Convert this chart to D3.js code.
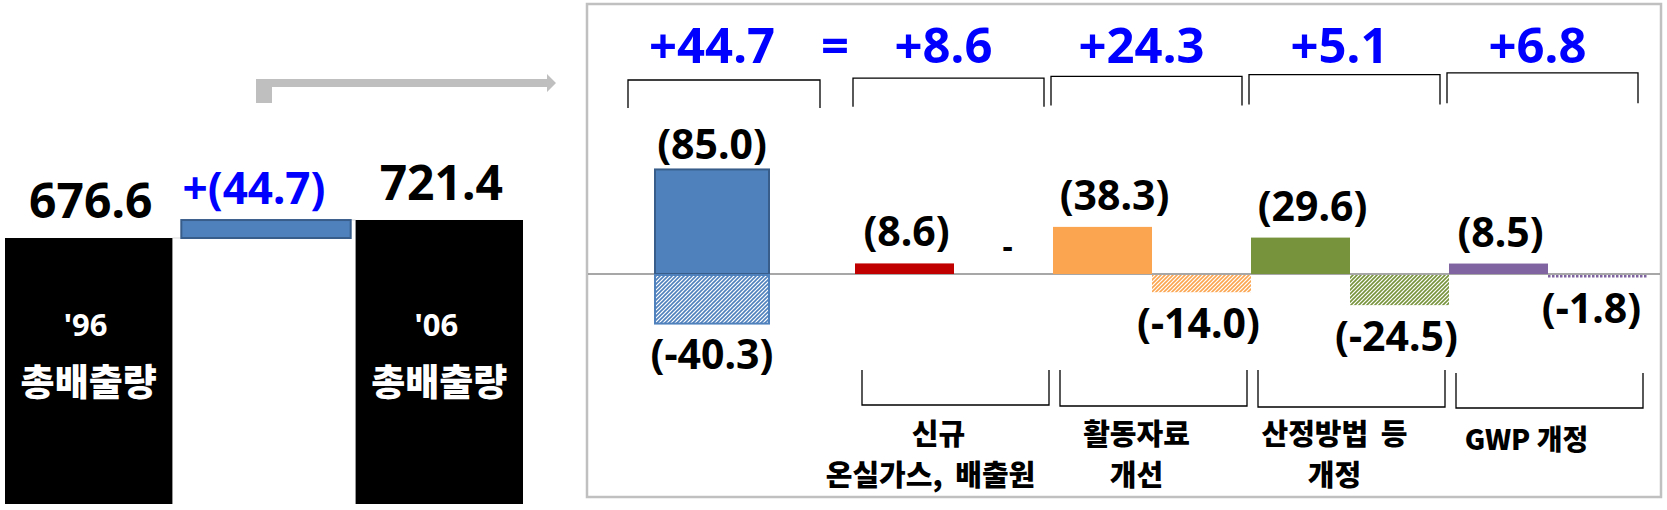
<!DOCTYPE html>
<html><head><meta charset="utf-8">
<script src="https://cdn.jsdelivr.net/npm/d3@7"></script>
<style>
body{margin:0;background:#fff}
svg{display:block}
text{font-family:"Noto Sans","Noto Sans CJK KR",sans-serif;font-weight:700}
text.kr{font-family:"Noto Sans CJK KR","Noto Sans",sans-serif;font-weight:900}
</style>
</head><body>
<svg id="c" width="1667" height="510"></svg>
<script>
// ---- data ----
const totalYears = ["'96", "'06"];
const totalNames = ["총배출량", "총배출량"];
const totalValues = [676.6, 721.4];
const totalChange = 44.7;
const netValues = [44.7, 8.6, 24.3, 5.1, 6.8];
const overallIncrease = 85.0;
const overallDecrease = -40.3;
const categories = ["신규 온실가스, 배출원", "활동자료 개선", "산정방법 등 개정", "GWP 개정"];
const categoryLines = [["신규", "온실가스, 배출원"], ["활동자료", "개선"], ["산정방법 등", "개정"], ["GWP 개정"]];
const increases = [8.6, 38.3, 29.6, 8.5];
const decreases = [null, -14.0, -24.5, -1.8];
const catColors = ["#c00000", "#fba550", "#77933c", "#8064a2"];

const svg = d3.select("#c");
const f1 = v => (+v).toFixed(1);
const paren = v => "(" + f1(v) + ")";

// ---- patterns ----
const defs = svg.append("defs");
function hatch(id, color, bg) {
  const p = defs.append("pattern").attr("id", id).attr("patternUnits", "userSpaceOnUse")
    .attr("width", 4).attr("height", 4);
  p.append("rect").attr("width", 4).attr("height", 4).attr("fill", bg);
  p.append("path").attr("d", "M-1,1 l2,-2 M0,4 l4,-4 M3,5 l2,-2")
    .attr("stroke", color).attr("stroke-width", 1.6);
}
hatch("h0", "#4f81bd", "#ffffff");
hatch("h1", catColors[1], "#ffffff");
hatch("h2", catColors[2], "#ffffff");
hatch("h3", catColors[3], "#ffffff");
{
  const p = defs.append("pattern").attr("id", "dots").attr("patternUnits", "userSpaceOnUse")
    .attr("width", 4).attr("height", 3);
  p.append("rect").attr("width", 4).attr("height", 3).attr("fill", "#fff");
  p.append("rect").attr("width", 2.5).attr("height", 3).attr("fill", catColors[3]);
}

// ---- left section ----
const xL = d3.scaleBand().domain([0, 1, 2]).range([5, 523]).paddingInner(0.045);
const yL = d3.scaleLinear().domain([0, 750]).range([510, 208.5]);
const leftBottom = 504;

svg.append("line").attr("x1", xL(0) + xL.bandwidth()).attr("x2", xL(1))
  .attr("y1", yL(totalValues[0])).attr("y2", yL(totalValues[0]))
  .attr("stroke", "#d9d9d9").attr("stroke-width", 1);
svg.append("line").attr("x1", xL(1) + xL.bandwidth()).attr("x2", xL(2))
  .attr("y1", yL(totalValues[1])).attr("y2", yL(totalValues[1]))
  .attr("stroke", "#d9d9d9").attr("stroke-width", 1);

[0, 1].forEach(i => {
  const xi = i === 0 ? 0 : 2;
  const x = xL(xi), w = xL.bandwidth(), cx = x + w / 2;
  svg.append("rect").attr("x", x).attr("y", yL(totalValues[i]))
    .attr("width", w).attr("height", leftBottom - yL(totalValues[i])).attr("fill", "#000");
  svg.append("text").attr("x", cx + 2).attr("y", yL(totalValues[i]) - 20)
    .attr("text-anchor", "middle").attr("font-size", 48).attr("fill", "#000")
    .text(f1(totalValues[i]));
  svg.append("text").attr("x", cx - 3).attr("y", 336)
    .attr("text-anchor", "middle").attr("font-size", 31).attr("fill", "#fff")
    .text(totalYears[i]);
  svg.append("text").attr("class", "kr").attr("x", cx).attr("y", 396)
    .attr("text-anchor", "middle").attr("font-size", 37).attr("fill", "#fff")
    .text(totalNames[i]);
});
svg.append("rect").attr("x", xL(1) + 1).attr("y", yL(totalValues[0] + totalChange))
  .attr("width", xL.bandwidth() + 2).attr("height", yL(totalValues[0]) - yL(totalValues[0] + totalChange))
  .attr("fill", "#4f81bd").attr("stroke", "#385d8a").attr("stroke-width", 2);
svg.append("text").attr("x", xL(1) + xL.bandwidth() / 2 - 10).attr("y", yL(totalValues[0] + totalChange) - 16)
  .attr("text-anchor", "middle").attr("font-size", 44).attr("fill", "#0000ff")
  .text("+(" + f1(totalChange) + ")");

// grey arrow
svg.append("path")
  .attr("d", "M256,79 H547 V74 L556,83 L547,92 V87 H272 V103 H256 Z")
  .attr("fill", "#bfbfbf");

// ---- right panel ----
svg.append("rect").attr("x", 587).attr("y", 4).attr("width", 1074).attr("height", 493)
  .attr("fill", "none").attr("stroke", "#c0c0c0").attr("stroke-width", 2.5);

const yR = d3.scaleLinear().domain([-50, 100]).range([274 + 61.5, 274 - 123]);
const xO = d3.scaleBand().domain(["total"]).range([655, 769]);
const xS = d3.scaleBand().domain(d3.range(8)).range([855, 1647]);
const bw = xS.bandwidth();

svg.append("line").attr("x1", 588).attr("x2", 1660).attr("y1", yR(0)).attr("y2", yR(0))
  .attr("stroke", "#8a8a8a").attr("stroke-width", 1.5);

svg.append("rect").attr("x", xO("total")).attr("y", yR(overallIncrease))
  .attr("width", xO.bandwidth()).attr("height", yR(0) - yR(overallIncrease))
  .attr("fill", "#4f81bd").attr("stroke", "#385d8a").attr("stroke-width", 2);
svg.append("rect").attr("x", xO("total")).attr("y", yR(0) + 1)
  .attr("width", xO.bandwidth()).attr("height", yR(overallDecrease) - yR(0) - 1)
  .attr("fill", "url(#h0)").attr("stroke", "#4f81bd").attr("stroke-width", 2);
svg.append("text").attr("x", xO("total") + xO.bandwidth() / 2).attr("y", yR(overallIncrease) - 10)
  .attr("text-anchor", "middle").attr("font-size", 41).text(paren(overallIncrease));
svg.append("text").attr("x", xO("total") + xO.bandwidth() / 2).attr("y", yR(overallDecrease) + 45)
  .attr("text-anchor", "middle").attr("font-size", 41).text(paren(overallDecrease));

increases.forEach((v, i) => {
  const x = xS(2 * i);
  svg.append("rect").attr("x", x).attr("y", yR(v)).attr("width", bw)
    .attr("height", yR(0) - yR(v)).attr("fill", catColors[i]);
  svg.append("text").attr("x", x + bw / 2 + (i === 1 || i === 2 ? 12 : 2)).attr("y", yR(v) - 17)
    .attr("text-anchor", "middle").attr("font-size", 41).text(paren(v));
});
decreases.forEach((v, i) => {
  const x = xS(2 * i + 1);
  if (v === null) {
    svg.append("text").attr("x", x + bw / 2 + 4).attr("y", 258)
      .attr("text-anchor", "middle").attr("font-size", 32).text("-");
    return;
  }
  const fill = i === 3 ? "url(#dots)" : "url(#h" + i + ")";
  svg.append("rect").attr("x", x).attr("y", yR(0) + 1).attr("width", bw)
    .attr("height", Math.max(2.5, yR(v) - yR(0))).attr("fill", fill);
  svg.append("text").attr("x", x + bw / 2 + (i === 3 ? -6 : -3)).attr("y", yR(v) + 47)
    .attr("text-anchor", "middle").attr("font-size", 41).text(paren(v));
});

const topGroups = [[xO("total") - 27, xO("total") + xO.bandwidth() + 51]]
  .concat(d3.range(4).map(i => [xS(2 * i) - 2, xS(2 * i) + 2 * bw - 9]));
topGroups.forEach(([x0, x1], i) => {
  const yt = 80 - i * 1.8, yb = 108 - i * 1.2;
  svg.append("path").attr("d", `M${x0},${yb} V${yt} H${x1} V${yb}`)
    .attr("fill", "none").attr("stroke", "#000").attr("stroke-width", 1.3);
  const cx = i === 0 ? xO("total") + xO.bandwidth() / 2 : (x0 + x1) / 2 - 5;
  svg.append("text").attr("x", cx).attr("y", 63).attr("text-anchor", "middle")
    .attr("font-size", 49).attr("fill", "#0000ff").text("+" + f1(netValues[i]));
});
svg.append("text").attr("x", 835).attr("y", 63).attr("text-anchor", "middle")
  .attr("font-size", 49).attr("fill", "#0000ff").text("=");

categoryLines.forEach((lines, i) => {
  const x0 = xS(2 * i) + 7, x1 = xS(2 * i) + 2 * bw - 4;
  const yt = 370 + (i === 3 ? 3 : 0), yb = 405 + i;
  svg.append("path").attr("d", `M${x0},${yt} V${yb} H${x1} V${yt}`)
    .attr("fill", "none").attr("stroke", "#000").attr("stroke-width", 1.3);
  const cx = (x0 + x1) / 2 - 17;
  lines.forEach((t, j) => {
    svg.append("text").attr("class", "kr")
      .attr("x", cx - (i === 0 && j === 1 ? 8 : 0) + (i === 3 ? -6 : 0))
      .attr("y", (i === 3 ? 450 : 445) + j * 41)
      .attr("text-anchor", "middle").attr("font-size", i === 3 ? 28 : 29)
      .attr("word-spacing", i === 3 ? 0 : 6).text(t);
  });
});
</script>
</body></html>
